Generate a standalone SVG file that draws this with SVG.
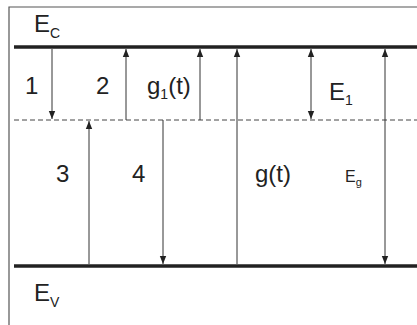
<svg xmlns="http://www.w3.org/2000/svg" width="417" height="325" viewBox="0 0 417 325">
  <style>
    .frame { stroke: #555; stroke-width: 1.2; fill: none; }
    .band { stroke: #222; stroke-width: 3.5; fill: none; }
    .level { stroke: #444; stroke-width: 1; stroke-dasharray: 5 3; fill: none; }
    .tr { stroke: #333; stroke-width: 1; fill: none; }
    .lbl { font-family: "Liberation Sans", Arial, sans-serif; font-size: 24px; fill: #222; }
    .sub { font-size: 14px; }
    .small { font-family: "Liberation Sans", Arial, sans-serif; font-size: 16px; fill: #222; }
  </style>
  <defs>
    <marker id="ah" viewBox="0 0 8 8" refX="8" refY="4" markerWidth="8" markerHeight="8" markerUnits="userSpaceOnUse" orient="auto-start-reverse">
      <path d="M0,0.8 L8,4 L0,7.2 Z" fill="#222"/>
    </marker>
  </defs>

  <!-- outer frame (top and left edges only) -->
  <path class="frame" d="M9,325 V7 H417"/>

  <!-- energy levels -->
  <g id="levels">
    <line id="ec-line" class="band" x1="14" y1="47" x2="417" y2="47"/>
    <line id="trap-line" class="level" x1="14" y1="120" x2="417" y2="120"/>
    <line id="ev-line" class="band" x1="14" y1="266" x2="417" y2="266"/>
  </g>

  <!-- transitions -->
  <g id="connectors">
    <line class="tr" x1="52" y1="49" x2="52" y2="119" marker-end="url(#ah)"/>
    <line class="tr" x1="126" y1="120" x2="126" y2="49" marker-end="url(#ah)"/>
    <line class="tr" x1="200" y1="120" x2="200" y2="49" marker-end="url(#ah)"/>
    <line class="tr" x1="89" y1="264" x2="89" y2="121" marker-end="url(#ah)"/>
    <line class="tr" x1="163" y1="120" x2="163" y2="264" marker-end="url(#ah)"/>
    <line class="tr" x1="237" y1="264" x2="237" y2="49" marker-end="url(#ah)"/>
    <line class="tr" x1="311" y1="49" x2="311" y2="119" marker-start="url(#ah)" marker-end="url(#ah)"/>
    <line class="tr" x1="385" y1="49" x2="385" y2="264" marker-start="url(#ah)" marker-end="url(#ah)"/>
  </g>

  <!-- labels -->
  <g id="label-ec"><text class="lbl" x="34" y="32">E<tspan class="sub" font-size="15" dy="6">C</tspan></text></g>
  <g id="label-ev"><text class="lbl" x="34" y="301">E<tspan class="sub" font-size="15" dy="6">V</tspan></text></g>
  <g id="label-1"><text class="lbl" x="25" y="94">1</text></g>
  <g id="label-2"><text class="lbl" x="96" y="94">2</text></g>
  <g id="label-g1"><text class="lbl" x="147" y="94">g<tspan class="sub" dy="5">1</tspan><tspan dy="-5">(t)</tspan></text></g>
  <g id="label-e1"><text class="lbl" x="329" y="100">E<tspan class="sub" dy="5">1</tspan></text></g>
  <g id="label-3"><text class="lbl" x="56" y="182">3</text></g>
  <g id="label-4"><text class="lbl" x="132" y="182">4</text></g>
  <g id="label-gt"><text class="lbl" x="255" y="182">g(t)</text></g>
  <g id="label-eg"><text class="small" x="345" y="182">E<tspan font-size="11" dy="4">g</tspan></text></g>
</svg>
